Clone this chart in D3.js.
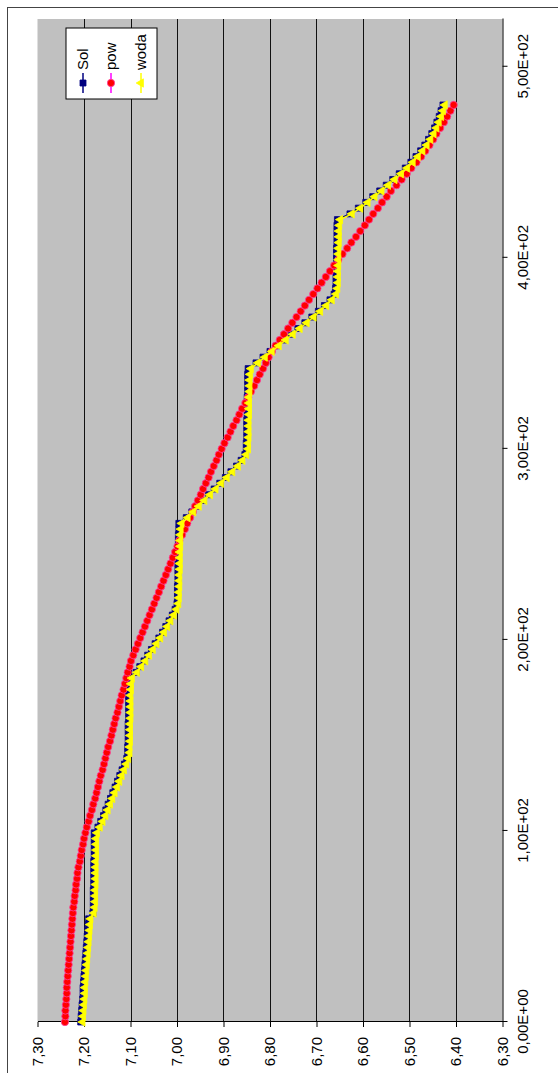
<!DOCTYPE html>
<html><head><meta charset="utf-8">
<script src="https://cdn.jsdelivr.net/npm/d3@7"></script>
<style>html,body{margin:0;padding:0;background:#fff;} svg{display:block;}</style>
</head><body>
<svg id="chart" width="558" height="1073"></svg>
<script>
const times = [0,3,6,9,12,15,18,21,24,27,30,33,36,39,42,45,48,51,54,57,60,63,66,69,72,75,78,81,84,87,90,93,96,99,102,105,108,111,114,117,120,123,126,129,132,135,138,141,144,147,150,153,156,159,162,165,168,171,174,177,180,183,186,189,192,195,198,201,204,207,210,213,216,219,222,225,228,231,234,237,240,243,246,249,252,255,258,261,264,267,270,273,276,279,282,285,288,291,294,297,300,303,306,309,312,315,318,321,324,327,330,333,336,339,342,345,348,351,354,357,360,363,366,369,372,375,378,381,384,387,390,393,396,399,402,405,408,411,414,417,420,423,426,429,432,435,438,441,444,447,450,453,456,459,462,465,468,471,474,477,480];

const sol = [7.207,7.206,7.205,7.204,7.203,7.202,7.202,7.201,7.200,7.199,7.198,7.197,7.196,7.195,7.194,7.193,7.192,7.191,7.190,
7.181,7.180,7.180,7.180,7.180,7.179,7.179,7.179,7.179,7.179,7.178,7.178,7.178,7.178,7.178,
7.170,7.164,7.158,7.153,7.148,7.143,7.138,7.133,7.128,7.123,7.118,7.113,7.108,
7.106,7.106,7.105,7.105,7.105,7.105,7.104,7.104,7.104,7.104,7.104,7.103,7.103,7.103,
7.088,7.080,7.071,7.063,7.055,7.047,7.039,7.031,7.024,7.017,7.010,7.004,
7.000,6.999,6.999,6.999,6.998,6.998,6.998,6.998,6.998,6.997,6.997,6.997,6.997,6.996,6.996,
6.980,6.968,6.956,6.944,6.932,6.920,6.908,6.896,6.884,6.872,6.862,6.854,
6.851,6.851,6.850,6.850,6.850,6.850,6.849,6.849,6.849,6.849,6.848,6.848,6.848,6.848,6.847,
6.830,6.815,6.800,6.785,6.770,6.755,6.740,6.725,6.710,6.696,6.683,6.671,6.662,
6.659,6.658,6.658,6.658,6.657,6.657,6.657,6.657,6.656,6.656,6.656,6.656,6.655,
6.628,6.610,6.594,6.579,6.564,6.550,6.536,6.522,6.509,6.497,6.486,6.476,6.467,6.459,6.452,6.446,6.441,6.436,6.432,6.428];

const pow = [7.241,7.240,7.240,7.239,7.238,7.237,7.237,7.236,7.235,7.234,7.233,7.232,7.231,7.230,7.229,7.228,
7.227,7.226,7.225,7.224,7.223,7.221,7.220,7.218,7.217,7.215,7.214,
7.212,7.209,7.207,7.205,7.202,7.200,7.197,
7.194,7.190,7.187,7.183,7.180,7.176,7.173,
7.170,7.167,7.164,7.160,7.157,7.154,7.151,7.148,7.144,7.141,7.138,7.135,7.132,7.128,7.125,7.122,7.119,7.115,7.112,7.109,7.106,7.102,7.099,
7.094,7.089,7.084,7.079,7.074,7.069,7.064,7.059,7.054,7.049,7.044,7.039,7.034,7.029,7.024,7.019,7.014,7.009,7.004,6.999,6.995,
6.989,6.983,6.978,6.972,6.966,6.961,6.955,6.949,6.944,6.938,6.932,6.927,6.921,6.915,6.910,6.904,
6.898,6.891,6.885,6.879,6.872,6.866,6.860,6.853,6.847,6.841,6.834,6.828,6.822,6.815,6.809,6.803,6.796,
6.788,6.779,6.770,6.761,6.752,6.743,6.734,6.725,6.716,6.707,6.698,6.689,6.680,6.671,6.662,6.653,
6.644,6.634,6.625,6.615,6.606,6.596,6.587,6.578,6.568,6.559,6.549,6.540,6.528,6.517,6.506,6.496,6.485,6.475,6.466,6.457,6.449,6.442,6.434,6.426,6.419,6.412,6.405];

const woda = [7.203,7.202,7.201,7.200,7.199,7.198,7.198,7.197,7.196,7.195,7.194,7.193,7.192,7.191,7.190,7.189,7.188,7.187,7.186,
7.179,7.177,7.176,7.176,7.176,7.175,7.175,7.175,7.175,7.175,7.174,7.174,7.174,7.174,7.172,
7.166,7.160,7.154,7.149,7.144,7.139,7.134,7.129,7.124,7.119,7.114,7.109,7.105,
7.102,7.102,7.101,7.101,7.101,7.101,7.100,7.100,7.100,7.100,7.100,7.099,7.099,7.097,
7.086,7.077,7.068,7.060,7.052,7.044,7.036,7.028,7.021,7.014,7.007,7.001,
6.997,6.996,6.996,6.995,6.995,6.995,6.994,6.994,6.994,6.994,6.993,6.993,6.993,6.992,6.990,
6.977,6.965,6.953,6.941,6.929,6.917,6.905,6.893,6.881,6.869,6.859,6.851,
6.847,6.847,6.846,6.846,6.846,6.846,6.845,6.845,6.845,6.845,6.844,6.844,6.844,6.843,6.841,
6.826,6.811,6.796,6.781,6.766,6.751,6.736,6.721,6.706,6.692,6.679,6.667,6.658,
6.655,6.654,6.654,6.654,6.653,6.653,6.653,6.653,6.652,6.652,6.652,6.651,6.649,
6.624,6.606,6.590,6.575,6.560,6.546,6.532,6.518,6.505,6.493,6.482,6.472,6.463,6.455,6.448,6.442,6.437,6.432,6.428,6.424];

const seriesNames = ["Sol","pow","woda"];
const xTicks = [0,100,200,300,400,500];
const xTickLabels = ["0,00E+00","1,00E+02","2,00E+02","3,00E+02","4,00E+02","5,00E+02"];
const yTicks = [6.3,6.4,6.5,6.6,6.7,6.8,6.9,7.0,7.1,7.2,7.3];
const yTickLabels = ["6,30","6,40","6,50","6,60","6,70","6,80","6,90","7,00","7,10","7,20","7,30"];

const W = 1073, H = 558;
const FONT = "'Liberation Sans', Arial, sans-serif";
const svg = d3.select("#chart");
svg.append("rect").attr("width",558).attr("height",1073).attr("fill","#fff");
// chart drawn in landscape frame, then turned a quarter turn counter-clockwise
const root = svg.append("g").attr("transform", `translate(0,${W}) rotate(-90)`);

root.append("rect").attr("x",-50).attr("y",7.5).attr("width",1065.5+50).attr("height",H+60)
  .attr("fill","none").attr("stroke","#444").attr("stroke-width",1);

const x = d3.scaleLinear().domain([0,525]).range([51,1054]);
const y = d3.scaleLinear().domain([6.3,7.3]).range([502.5,37.5]);

root.append("rect").attr("x",51).attr("y",37.5).attr("width",1003).attr("height",465).attr("fill","#c0c0c0");

root.append("g").selectAll("line").data(yTicks.filter(v => v > 6.35 && v < 7.25)).join("line")
  .attr("x1",51).attr("x2",1054).attr("y1",d=>Math.round(y(d))+0.5).attr("y2",d=>Math.round(y(d))+0.5)
  .attr("stroke","#111").attr("stroke-width",1);

const xAxis = d3.axisBottom(x).tickValues(xTicks).tickFormat((d,i)=>xTickLabels[i]).tickSize(5).tickSizeOuter(0).tickPadding(10);
const gx = root.append("g").attr("transform","translate(0,502.5)").call(xAxis);
const yAxis = d3.axisLeft(y).tickValues(yTicks).tickFormat((d,i)=>yTickLabels[i]).tickSize(5).tickSizeOuter(0).tickPadding(10);
const gy = root.append("g").attr("transform","translate(51,0)").call(yAxis);
[gx,gy].forEach(g=>{
  g.attr("font-family",FONT).attr("font-size",15);
  g.selectAll("path,line").attr("stroke","#000");
  g.selectAll("text").attr("fill","#000");
});

const series = [
  {name:seriesNames[0], vals:sol, line:"#000080", marker:"square", fill:"#000080", stroke:"#000080", size:36},
  {name:seriesNames[1], vals:pow, line:"#ff00ff", marker:"circle", fill:"#ff0000", stroke:"#ff3fa0", size:42},
  {name:seriesNames[2], vals:woda, line:"#ffff00", marker:"triangle", fill:"#ffff00", stroke:"#ffff00", size:30}
];
const symFor = s => d3.symbol(s.marker==="square" ? d3.symbolSquare : s.marker==="circle" ? d3.symbolCircle : d3.symbolTriangle, s.size);

const lineGen = d3.line().x(d=>x(d.t)).y(d=>y(d.v));
series.forEach(s=>{
  const pts = times.map((t,i)=>({t, v:s.vals[i]}));
  const g = root.append("g");
  g.append("path").datum(pts).attr("d",lineGen).attr("fill","none").attr("stroke",s.line).attr("stroke-width",1.5);
  g.selectAll("path.m").data(pts).join("path").attr("class","m")
    .attr("d",symFor(s)()).attr("transform",d=>`translate(${x(d.t)},${y(d.v)})`)
    .attr("fill",s.fill).attr("stroke",s.stroke).attr("stroke-width",0.8);
});

// legend
const lg = root.append("g").attr("font-family",FONT).attr("font-size",15);
lg.append("rect").attr("x",974).attr("y",66).attr("width",71).attr("height",91).attr("fill","#fff").attr("stroke","#000").attr("stroke-width",1);
const rows = [83,111,141];
series.forEach((s,i)=>{
  const cy = rows[i];
  lg.append("line").attr("x1",980).attr("x2",1000).attr("y1",cy).attr("y2",cy).attr("stroke",s.line).attr("stroke-width",1.5);
  lg.append("path").attr("d",symFor(s)()).attr("transform",`translate(990,${cy})`)
    .attr("fill",s.fill).attr("stroke",s.stroke).attr("stroke-width",0.8);
  lg.append("text").attr("x",1003).attr("y",cy+5).attr("fill","#000").text(s.name);
});
</script>
</body></html>
